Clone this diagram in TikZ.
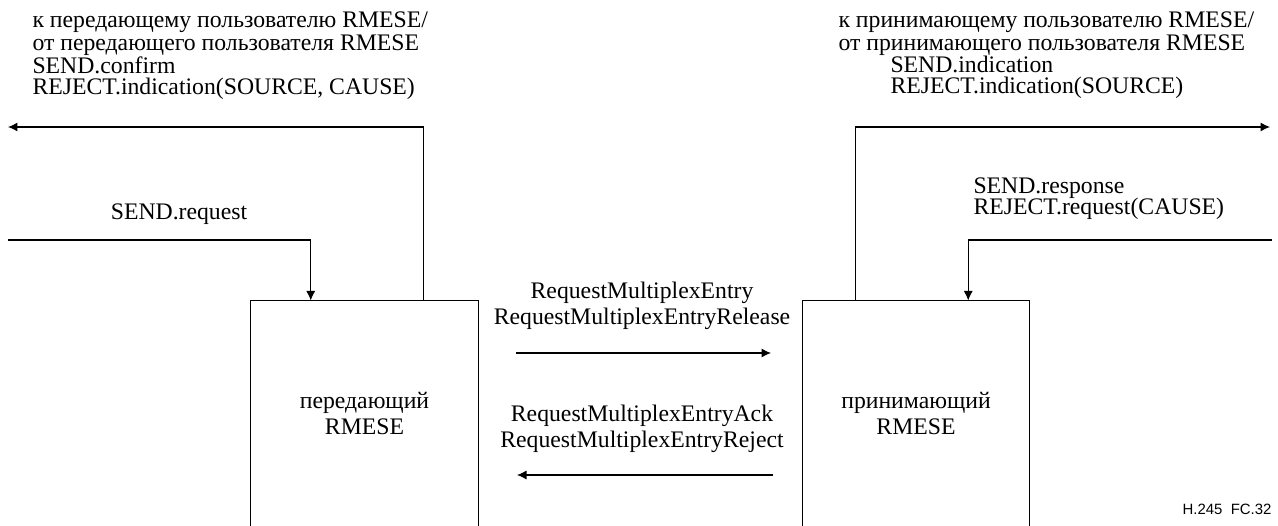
\documentclass[tikz,border=0pt]{standalone}
\usepackage{fontspec}
\setmainfont{Liberation Serif}
\newfontfamily\figsans{Liberation Sans}
\usetikzlibrary{arrows.meta,positioning}

\begin{document}
\begin{tikzpicture}[x=0.02cm, y=-0.02cm, line width=0.6pt,
      >={Latex[length=1.9mm,width=1.8mm]},
      font=\fontsize{13.5}{12.5}\selectfont,
      lbl/.style={inner sep=0pt, align=left, anchor=base west},
      msg/.style={inner sep=0pt, align=center, anchor=base,
        font=\fontsize{13.5}{14.8}\selectfont},
      entity/.style={inner sep=0pt, minimum width=4.53cm, minimum height=4.5cm,
        align=center, font=\fontsize{13.5}{14.8}\selectfont}]
    \useasboundingbox (0,0) rectangle (1278,526);
    % the two RMESE entities, open at the bottom
    \node[entity] (tx) at (364.5,413.5) {передающий\\RMESE};
    \node[entity] (rx) at (916,413.5) {принимающий\\RMESE};
    \draw (tx.south west) -- (tx.north west) -- (tx.north east) -- (tx.south east);
    \draw (rx.south west) -- (rx.north west) -- (rx.north east) -- (rx.south east);
    % primitives on the sending side (base = last line)
    \node[lbl, font=\fontsize{13.5}{13.6}\selectfont] (usrL) at (32,51)
      {к передающему пользователю RMESE/\\от передающего пользователя RMESE};
    \node[lbl] (primL) at (32,95) {SEND.confirm\\REJECT.indication(SOURCE, CAUSE)};
    \node[lbl, anchor=base] (reqL) at (179,220) {SEND.request};
    % primitives on the receiving side
    \node[lbl, font=\fontsize{13.5}{13.6}\selectfont] (usrR) at (838,51)
      {к принимающему пользователю RMESE/\\от принимающего пользователя RMESE};
    \node[lbl] (primR) at (890,94) {SEND.indication\\REJECT.indication(SOURCE)};
    \node[lbl] (respR) at (973,215) {SEND.response\\REJECT.request(CAUSE)};
    % messages between the peers
    \node[msg] (fwd) at (642,325) {RequestMultiplexEntry\\RequestMultiplexEntryRelease};
    \node[msg] (bwd) at (642,448) {RequestMultiplexEntryAck\\RequestMultiplexEntryReject};
    \node[inner sep=0pt, anchor=base east, font=\figsans\fontsize{8.5}{10}\selectfont]
      (figno) at (1272,515) {H.245\ \ FC.32};
    % free ends
    \coordinate (toUsrL) at (8,127);
    \coordinate (fromUsrL) at (8,240);
    \coordinate (toUsrR) at (1270,127);
    \coordinate (fromUsrR) at (1272,240);
    \coordinate (fwdA) at (516,353);
    \coordinate (fwdB) at (771,353);
    \coordinate (bwdA) at (773,475);
    \coordinate (bwdB) at (517,475);
    % arrows
    \draw[->] ([xshift=3.46cm]tx.north west) |- (toUsrL);
    \draw[->] (fromUsrL) -| ([xshift=1.2cm]tx.north west);
    \draw[->] ([xshift=1.06cm]rx.north west) |- (toUsrR);
    \draw[->] (fromUsrR) -| ([xshift=3.32cm]rx.north west);
    \draw[->] (fwdA) -- (fwdB);
    \draw[->] (bwdA) -- (bwdB);
  \end{tikzpicture}
\end{document}
